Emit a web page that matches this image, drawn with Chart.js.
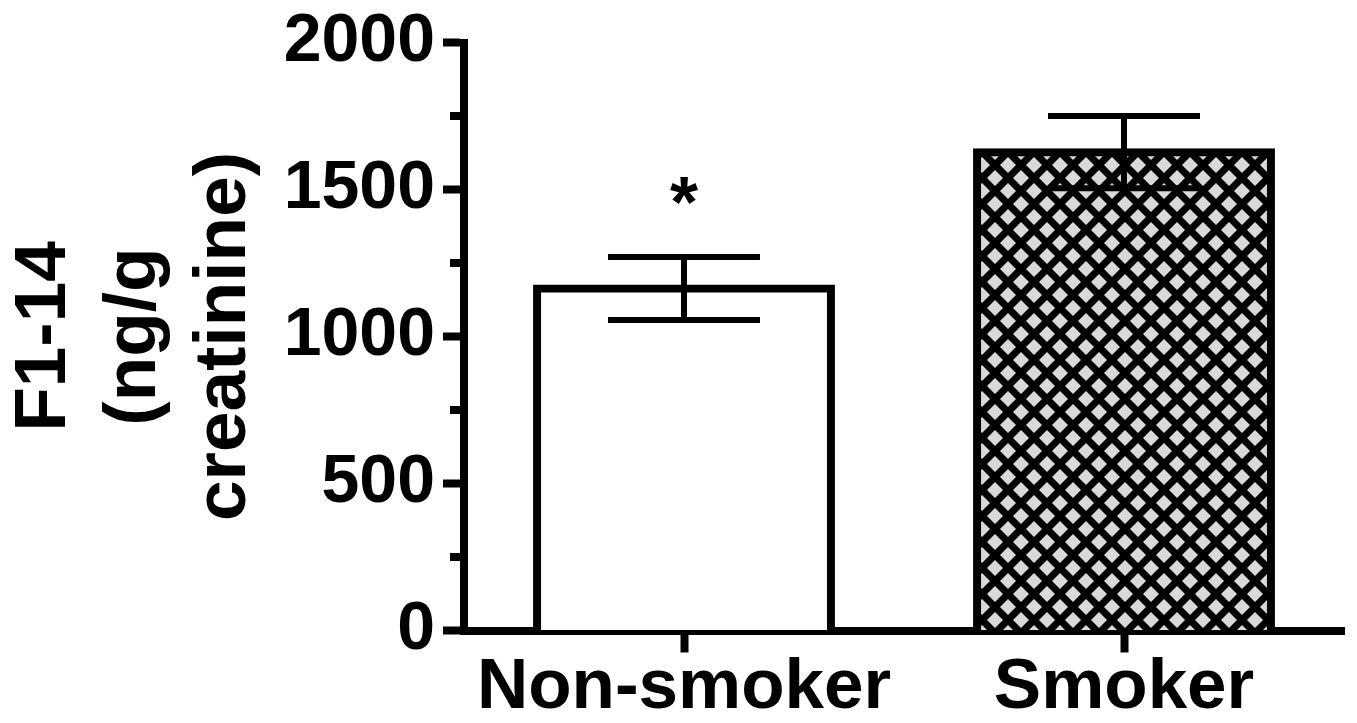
<!DOCTYPE html>
<html><head><meta charset="utf-8">
<script src="https://cdn.jsdelivr.net/npm/chart.js@4.4.1/dist/chart.umd.min.js"></script>
<style>html,body{margin:0;padding:0;background:#fff;} #wrap{width:1357px;height:723px;position:relative}</style>
</head><body><div id="wrap"><canvas id="c" width="1357" height="723"></canvas></div>
<script>
const categories = ['Non-smoker', 'Smoker'];
const means = [1163, 1627];
const sems = [107, 123];
const marks = ['*', ''];
const yTicks = [0, 500, 1000, 1500, 2000];
const yMinorTicks = [250, 750, 1250, 1750];
const yTitle = ['F1-14', '(ng/g', 'creatinine)'];

const FONT = '"Liberation Sans", Arial, Helvetica, sans-serif';
const canvas = document.getElementById('c');
const ctx0 = canvas.getContext('2d');

// crosshatch pattern: black lattice with light grey diamonds
const tile = document.createElement('canvas');
tile.width = 26; tile.height = 26;
const tc = tile.getContext('2d');
tc.fillStyle = '#000'; tc.fillRect(0, 0, 26, 26);
tc.fillStyle = '#d9d9d9';
function diamond(cx, cy, r) { tc.beginPath(); tc.moveTo(cx, cy - r); tc.lineTo(cx + r, cy); tc.lineTo(cx, cy + r); tc.lineTo(cx - r, cy); tc.closePath(); tc.fill(); }
[[0,0],[26,0],[0,26],[26,26],[13,13]].forEach(p => diamond(p[0], p[1], 8));
const hatch = ctx0.createPattern(tile, 'repeat');
if (hatch.setTransform) hatch.setTransform(new DOMMatrix().translate(20, 9));

const errorBars = {
  id: 'errorBars',
  afterDatasetsDraw(chart) {
    const ctx = chart.ctx, y = chart.scales.y, meta = chart.getDatasetMeta(0);
    ctx.save();
    ctx.strokeStyle = '#000'; ctx.lineWidth = 6; ctx.lineCap = 'butt';
    meta.data.forEach((bar, i) => {
      const x = bar.x, hw = bar.width * 0.2585;
      const yt = y.getPixelForValue(means[i] + sems[i]);
      const yb = y.getPixelForValue(means[i] - sems[i]);
      ctx.beginPath();
      ctx.moveTo(x, yt); ctx.lineTo(x, yb);
      ctx.moveTo(x - hw, yt); ctx.lineTo(x + hw, yt);
      ctx.moveTo(x - hw, yb); ctx.lineTo(x + hw, yb);
      ctx.stroke();
      if (marks[i]) {
        ctx.fillStyle = '#000';
        ctx.font = 'bold 72px ' + FONT;
        ctx.textAlign = 'center'; ctx.textBaseline = 'alphabetic';
        ctx.fillText(marks[i], x, yt - 30);
      }
    });
    ctx.restore();
  }
};

const minorTicks = {
  id: 'minorTicks',
  afterDraw(chart) {
    const ctx = chart.ctx, y = chart.scales.y;
    ctx.save();
    ctx.strokeStyle = '#000'; ctx.lineWidth = 8;
    yMinorTicks.forEach(v => {
      const py = y.getPixelForValue(v);
      ctx.beginPath(); ctx.moveTo(y.right - 14, py); ctx.lineTo(y.right, py); ctx.stroke();
    });
    ctx.restore();
  }
};

new Chart(canvas, {
  type: 'bar',
  data: {
    labels: categories,
    datasets: [{
      data: means,
      backgroundColor: ['#ffffff', hatch],
      borderColor: '#000',
      borderWidth: 8,
      inflateAmount: 4,
      barPercentage: 0.668,
      categoryPercentage: 1
    }]
  },
  options: {
    responsive: false,
    animation: false,
    devicePixelRatio: 1,
    layout: { padding: { left: 0, top: 42.5, right: 13, bottom: 0 } },
    plugins: { legend: { display: false }, tooltip: { enabled: false } },
    scales: {
      x: {
        z: 1,
        offset: true,
        grid: { display: true, offset: false, drawOnChartArea: false, drawTicks: true, tickLength: 22, tickWidth: 8, tickColor: '#000' },
        border: { display: true, color: '#000', width: 8 },
        ticks: { color: '#000', padding: 0, maxRotation: 0, font: { family: FONT, size: 71, weight: 'bold', lineHeight: 1 } },
        afterFit(s) { s.height = 92.5; }
      },
      y: {
        min: 0, max: 2000,
        afterBuildTicks(s) { s.ticks = yTicks.map(v => ({ value: v })); },
        grid: { display: true, drawOnChartArea: false, drawTicks: true, tickLength: 21, tickWidth: 8, tickColor: '#000' },
        border: { display: true, color: '#000', width: 8 },
        ticks: { color: '#000', padding: 8, callback: v => String(v), font: { family: FONT, size: 68, weight: 'bold', lineHeight: 1 } },
        title: { display: true, text: yTitle, color: '#000', padding: 0, font: { family: FONT, size: 73, weight: 'bold', lineHeight: 1.23 } },
        afterFit(s) { s.width = 464; }
      }
    }
  },
  plugins: [errorBars, minorTicks]
});
</script></body></html>
